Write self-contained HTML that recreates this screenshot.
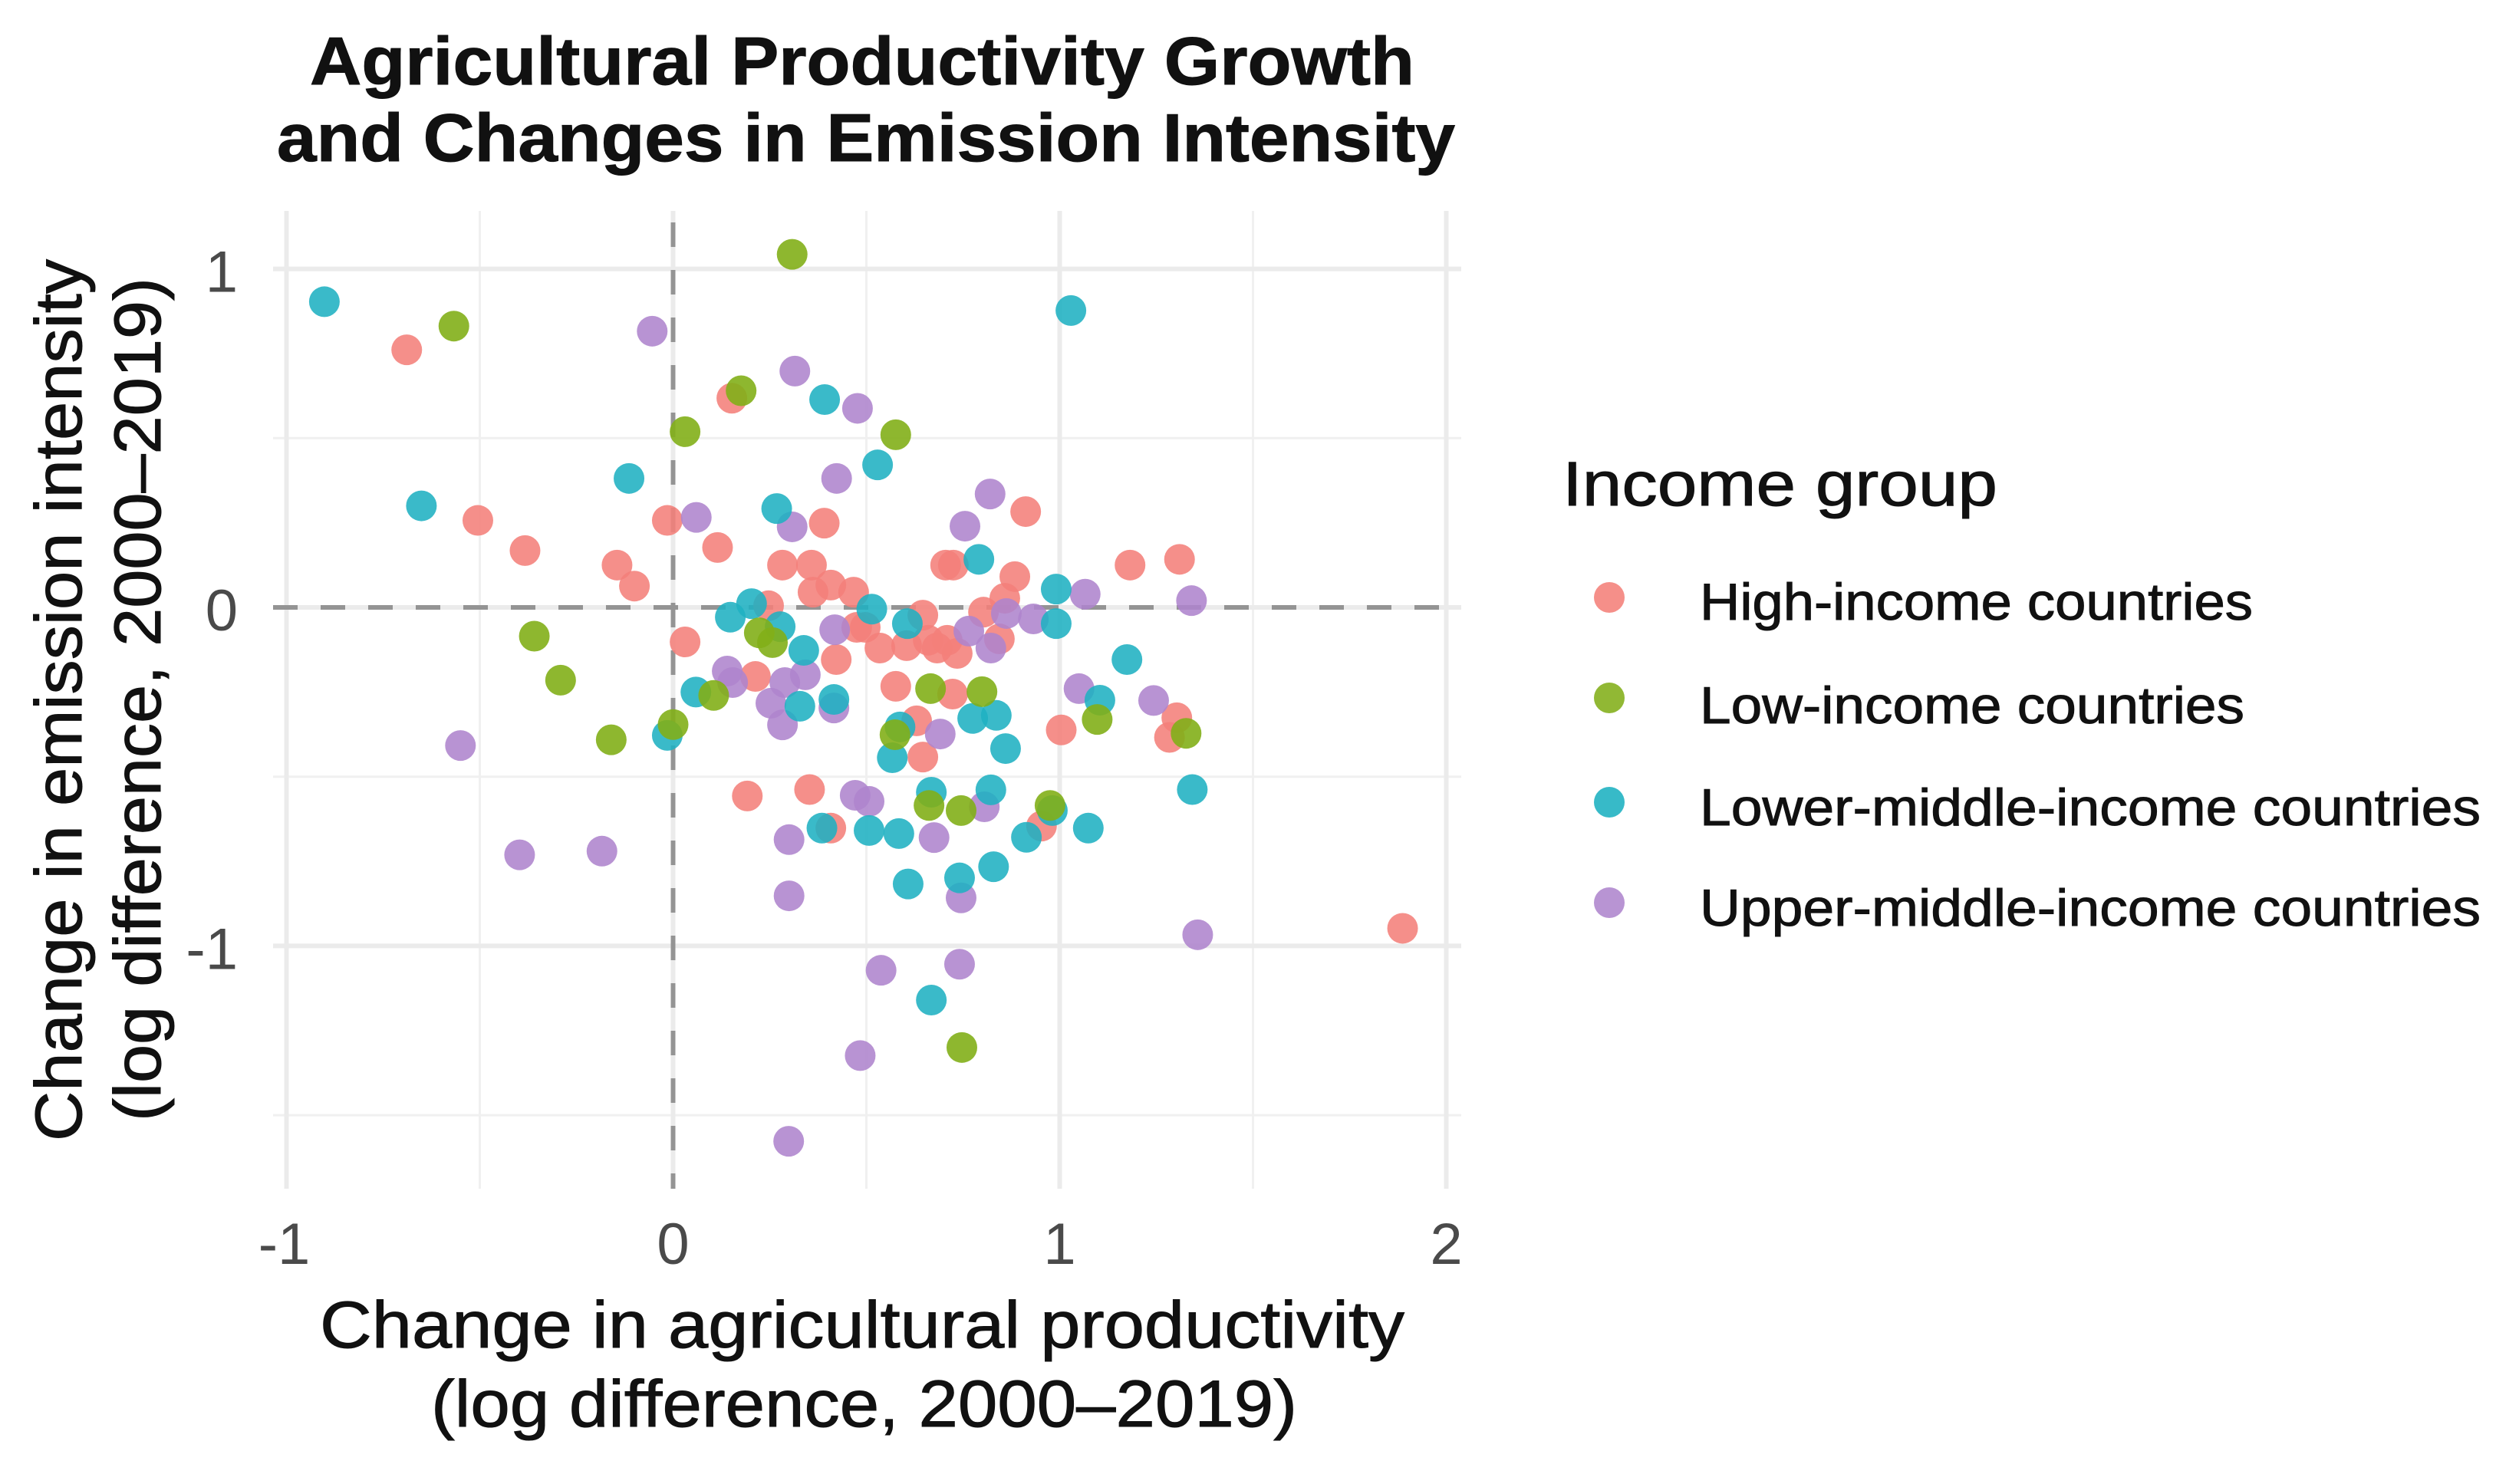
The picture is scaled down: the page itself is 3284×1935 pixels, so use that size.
<!DOCTYPE html>
<html lang="en">
<head>
<meta charset="utf-8">
<title>Agricultural Productivity Growth and Changes in Emission Intensity</title>
<style>
html,body{margin:0;padding:0;background:#fff;}
svg{display:block;}
text{font-family:"Liberation Sans",Arial,sans-serif;}
.heavy text{stroke:#111;stroke-width:1;}
</style>
</head>
<body>
<svg id="chart" xmlns="http://www.w3.org/2000/svg" width="3284" height="1935" viewBox="0 0 3284 1935">
  <rect width="3284" height="1935" fill="#fff"/>
  <g id="grid"></g>
  <g id="refs"></g>
  <g id="points"></g>
  <g id="ticks" font-size="76" fill="#4a4a4a"></g>

  <g class="heavy" font-size="88" font-weight="700" fill="#111">
    <text x="404" y="110" textLength="1440" lengthAdjust="spacingAndGlyphs">Agricultural Productivity Growth</text>
    <text x="361" y="210" textLength="1536" lengthAdjust="spacingAndGlyphs">and Changes in Emission Intensity</text>
  </g>

  <g class="heavy" font-size="86" fill="#111">
    <text x="417" y="1757" textLength="1414" lengthAdjust="spacingAndGlyphs">Change in agricultural productivity</text>
    <text x="562" y="1860" textLength="1129" lengthAdjust="spacingAndGlyphs">(log difference, 2000–2019)</text>
  </g>

  <g class="heavy" font-size="86" fill="#111">
    <text transform="translate(106 1488) rotate(-90)" textLength="1150" lengthAdjust="spacingAndGlyphs">Change in emission intensity</text>
    <text transform="translate(209 1462) rotate(-90)" textLength="1100" lengthAdjust="spacingAndGlyphs">(log difference, 2000–2019)</text>
  </g>

  <g class="heavy" fill="#111">
    <text x="2037" y="659" font-size="82" textLength="567" lengthAdjust="spacingAndGlyphs">Income group</text>
    <g>
      <circle cx="2098" cy="779" r="20" fill="#F4837C" fill-opacity="0.9"/>
      <text x="2216" y="808" font-size="68" textLength="721" lengthAdjust="spacingAndGlyphs">High-income countries</text>
    </g>
    <g>
      <circle cx="2098" cy="910" r="20" fill="#85B01E" fill-opacity="0.9"/>
      <text x="2216" y="943" font-size="68" textLength="710" lengthAdjust="spacingAndGlyphs">Low-income countries</text>
    </g>
    <g>
      <circle cx="2098" cy="1046" r="20" fill="#21B2C2" fill-opacity="0.9"/>
      <text x="2216" y="1076" font-size="68" textLength="1018" lengthAdjust="spacingAndGlyphs">Lower-middle-income countries</text>
    </g>
    <g>
      <circle cx="2098" cy="1177" r="20" fill="#B088CE" fill-opacity="0.9"/>
      <text x="2216" y="1207" font-size="68" textLength="1018" lengthAdjust="spacingAndGlyphs">Upper-middle-income countries</text>
    </g>
  </g>
</svg>

<script>
const xMajorTicks = [-1, 0, 1, 2];
const xMinorTicks = [-0.5, 0.5, 1.5];
const yMajorTicks = [-1, 0, 1];
const yMinorTicks = [-1.5, -0.5, 0.5];
const xTickLabels = ["-1", "0", "1", "2"];
const yTickLabels = ["-1", "0", "1"];

const highX = [-0.689,0.152,-0.505,-0.383,-0.145,-0.10,-0.015,0.115,0.391,0.283,0.358,0.408,0.362,0.467,0.912,0.705,0.725,1.182,1.31,0.884,0.858,0.803,0.646,0.247,0.475,0.497,0.535,0.422,0.604,0.66,0.683,0.709,0.735,0.844,0.576,0.723,1.004,1.303,1.284,0.63,0.646,0.031,0.213,0.192,0.353,0.408,0.953,1.887];
const highY = [0.761,0.618,0.257,0.168,0.125,0.063,0.257,0.177,0.249,0.125,0.125,0.066,0.045,0.045,0.283,0.125,0.125,0.125,0.142,0.091,0.027,-0.014,-0.023,0.005,-0.059,-0.059,-0.12,-0.154,-0.113,-0.097,-0.12,-0.097,-0.136,-0.093,-0.233,-0.256,-0.362,-0.326,-0.384,-0.335,-0.442,-0.102,-0.204,-0.557,-0.538,-0.652,-0.646,-0.948];

const upperX = [-0.054,0.315,0.477,0.06,0.308,0.423,0.82,0.755,1.066,1.341,0.932,0.862,0.418,0.765,0.822,0.14,0.154,0.342,0.289,0.253,0.283,0.416,-0.55,-0.397,-0.184,0.30,0.30,1.05,1.243,0.691,0.471,0.507,0.805,0.675,0.745,1.357,0.538,0.741,0.484,0.299];
const upperY = [0.816,0.698,0.588,0.266,0.238,0.381,0.335,0.24,0.039,0.02,-0.034,-0.018,-0.066,-0.07,-0.12,-0.188,-0.222,-0.199,-0.222,-0.283,-0.347,-0.297,-0.408,-0.731,-0.72,-0.686,-0.852,-0.24,-0.275,-0.374,-0.555,-0.573,-0.589,-0.68,-0.858,-0.967,-1.072,-1.054,-1.324,-1.577];

const lowerX = [-0.902,-0.651,-0.114,0.392,1.029,0.529,0.268,0.791,0.514,0.606,0.991,0.991,0.148,0.203,0.277,0.338,0.328,0.416,-0.015,0.059,1.174,1.104,0.587,0.567,0.775,0.836,0.86,0.668,0.822,0.981,1.343,0.914,1.074,0.507,0.584,0.385,0.608,0.741,0.829,0.668];
const lowerY = [0.903,0.30,0.381,0.614,0.877,0.421,0.292,0.142,-0.005,-0.048,0.054,-0.048,-0.029,0.011,-0.057,-0.127,-0.292,-0.272,-0.378,-0.25,-0.154,-0.274,-0.353,-0.444,-0.328,-0.319,-0.417,-0.546,-0.539,-0.6,-0.538,-0.679,-0.652,-0.659,-0.668,-0.652,-0.817,-0.799,-0.766,-1.16];

const lowX = [-0.567,0.308,0.176,0.031,0.576,-0.359,-0.291,-0.16,0,0.105,0.223,0.257,0.574,0.666,0.799,1.097,1.327,0.662,0.745,0.975,0.747];
const lowY = [0.831,1.043,0.64,0.519,0.51,-0.085,-0.215,-0.391,-0.346,-0.26,-0.075,-0.104,-0.376,-0.24,-0.249,-0.331,-0.372,-0.585,-0.6,-0.585,-1.30];

const SVG_NS = "http://www.w3.org/2000/svg";
const scaleX = v => 877.5 + 504 * v;
const scaleY = v => 792 - 441.4 * v;
const panel = { left: 356, right: 1905, top: 275, bottom: 1550 };

function line(parent, x1, y1, x2, y2, stroke, width) {
  const el = document.createElementNS(SVG_NS, "line");
  el.setAttribute("x1", x1);
  el.setAttribute("y1", y1);
  el.setAttribute("x2", x2);
  el.setAttribute("y2", y2);
  el.setAttribute("stroke", stroke);
  el.setAttribute("stroke-width", width);
  parent.appendChild(el);
  return el;
}

const grid = document.getElementById("grid");
xMinorTicks.forEach(v => {
  const el = line(grid, scaleX(v), panel.top, scaleX(v), panel.bottom, "#f0f0f0", 3);
  
  
});
yMinorTicks.forEach(v => {
  const el = line(grid, panel.left, scaleY(v), panel.right, scaleY(v), "#f0f0f0", 3);
  
  
});
xMajorTicks.forEach(v => {
  const el = line(grid, scaleX(v), panel.top, scaleX(v), panel.bottom, "#ebebeb", 6);
  
  
});
yMajorTicks.forEach(v => {
  const el = line(grid, panel.left, scaleY(v), panel.right, scaleY(v), "#ebebeb", 6);
  
  
});

const refs = document.getElementById("refs");
const hRef = line(refs, panel.left, scaleY(0), panel.right, scaleY(0), "#949494", 6);
hRef.setAttribute("stroke-dasharray", "32 30");


const vRef = line(refs, scaleX(0), 290, scaleX(0), panel.bottom, "#949494", 6);
vRef.setAttribute("stroke-dasharray", "32 30");



const ticks = document.getElementById("ticks");
xMajorTicks.forEach((v, i) => {
  const t = document.createElementNS(SVG_NS, "text");
  t.setAttribute("x", scaleX(v) + (v === -1 ? -3 : 0));
  t.setAttribute("y", 1648);
  t.setAttribute("text-anchor", "middle");
  t.textContent = xTickLabels[i];
  
  
  ticks.appendChild(t);
});
yMajorTicks.forEach((v, i) => {
  const t = document.createElementNS(SVG_NS, "text");
  t.setAttribute("x", 310);
  t.setAttribute("y", scaleY(v) + 30);
  t.setAttribute("text-anchor", "end");
  t.textContent = yTickLabels[i];
  
  
  ticks.appendChild(t);
});

const points = document.getElementById("points");
function drawSeries(xs, ys, color, opacity, seriesName) {
  const g = document.createElementNS(SVG_NS, "g");
  
  
  g.setAttribute("data-series", seriesName);
  xs.forEach((x, i) => {
    const c = document.createElementNS(SVG_NS, "circle");
    c.setAttribute("cx", scaleX(x));
    c.setAttribute("cy", scaleY(ys[i]));
    c.setAttribute("r", 20);
    c.setAttribute("fill", color);
    c.setAttribute("fill-opacity", opacity);
    
    
    g.appendChild(c);
  });
  points.appendChild(g);
}
drawSeries(highX, highY, "#F4807A", 0.88, "high-income");
drawSeries(upperX, upperY, "#AE84CD", 0.88, "upper-middle-income");
drawSeries(lowerX, lowerY, "#1FB1C1", 0.88, "lower-middle-income");
drawSeries(lowX, lowY, "#82AF18", 0.9, "low-income");
</script>
</body>
</html>
